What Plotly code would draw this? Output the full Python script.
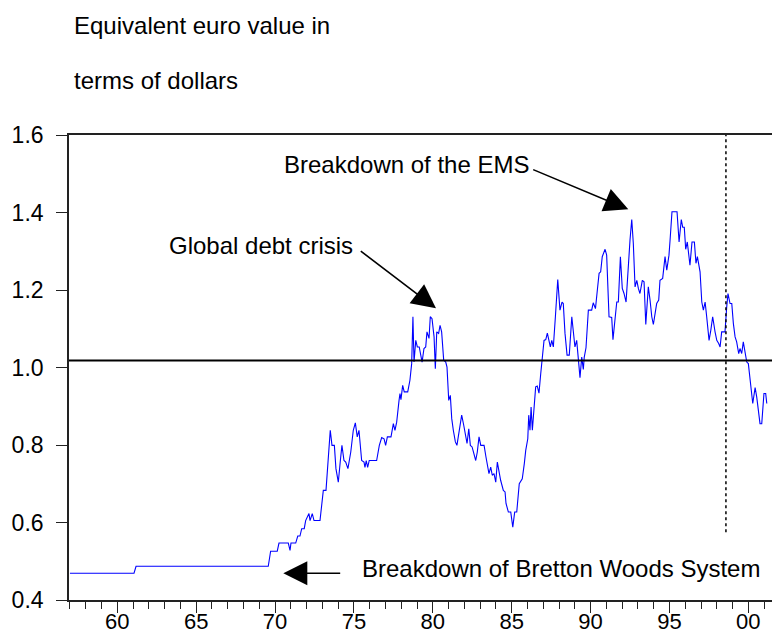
import plotly.graph_objects as go

# ---- data ----
years = [1957.0, 1961.06, 1961.19, 1969.57, 1969.72, 1970.14, 1970.25, 1970.84, 1970.95, 1971.01,
         1971.31, 1971.44, 1971.58, 1971.69, 1971.85, 1971.94, 1972.15, 1972.22, 1972.36, 1972.47,
         1972.85, 1973.06, 1973.23, 1973.40, 1973.50, 1973.61, 1973.76, 1973.86, 1974.01, 1974.14,
         1974.24, 1974.37, 1974.48, 1974.62, 1974.80, 1974.96, 1975.09, 1975.21, 1975.32, 1975.49,
         1975.64, 1975.70, 1975.78, 1975.87, 1975.97, 1976.44, 1976.61, 1976.76, 1976.91, 1977.01,
         1977.12, 1977.35, 1977.50, 1977.60, 1977.71, 1977.86, 1977.92, 1977.98, 1978.09, 1978.19,
         1978.41, 1978.55, 1978.66, 1978.74, 1978.81, 1978.92, 1979.02, 1979.14, 1979.32, 1979.44,
         1979.55, 1979.63, 1979.76, 1979.84, 1979.95, 1980.08, 1980.16, 1980.25, 1980.37, 1980.46,
         1980.56, 1980.69, 1980.82, 1980.90, 1981.01, 1981.11, 1981.20, 1981.30, 1981.43, 1981.53,
         1981.72, 1981.83, 1981.96, 1982.06, 1982.17, 1982.28, 1982.38, 1982.49, 1982.61, 1982.72,
         1982.82, 1982.93, 1983.04, 1983.25, 1983.37, 1983.56, 1983.67, 1983.77, 1983.88, 1983.99,
         1984.09, 1984.20, 1984.30, 1984.47, 1984.58, 1984.64, 1984.79, 1984.94, 1985.07, 1985.19,
         1985.32, 1985.48, 1985.67, 1985.80, 1985.89, 1986.02, 1986.08, 1986.16, 1986.23, 1986.31,
         1986.43, 1986.52, 1986.62, 1986.73, 1986.84, 1986.94, 1987.05, 1987.16, 1987.26, 1987.35,
         1987.45, 1987.54, 1987.64, 1987.77, 1987.92, 1988.06, 1988.19, 1988.27, 1988.38, 1988.51,
         1988.65, 1988.81, 1988.91, 1989.01, 1989.12, 1989.22, 1989.33, 1989.44, 1989.54, 1989.60,
         1989.71, 1989.86, 1990.07, 1990.17, 1990.31, 1990.43, 1990.54, 1990.64, 1990.74, 1990.92,
         1991.02, 1991.17, 1991.34, 1991.42, 1991.53, 1991.66, 1991.76, 1991.89, 1992.01, 1992.12,
         1992.25, 1992.39, 1992.50, 1992.61, 1992.71, 1992.82, 1992.93, 1993.03, 1993.13, 1993.28,
         1993.39, 1993.50, 1993.66, 1993.77, 1993.88, 1993.98, 1994.19, 1994.32, 1994.40, 1994.57,
         1994.72, 1994.83, 1994.97, 1995.04, 1995.16, 1995.48, 1995.61, 1995.75, 1995.84, 1995.94,
         1996.03, 1996.13, 1996.30, 1996.43, 1996.58, 1996.68, 1996.77, 1996.94, 1997.05, 1997.15,
         1997.26, 1997.36, 1997.51, 1997.62, 1997.74, 1997.89, 1998.00, 1998.12, 1998.21, 1998.31,
         1998.42, 1998.52, 1998.63, 1998.71, 1998.84, 1998.95, 1999.05, 1999.16, 1999.26, 1999.39,
         1999.47, 1999.58, 1999.68, 1999.79, 1999.90, 2000.00, 2000.11, 2000.28, 2000.43, 2000.53,
         2000.74, 2000.85, 2000.99, 2001.10, 2001.17]
values = [0.469, 0.469, 0.487, 0.487, 0.526, 0.526, 0.547, 0.547, 0.528, 0.547,
          0.547, 0.565, 0.565, 0.584, 0.584, 0.605, 0.623, 0.605, 0.623, 0.605,
          0.605, 0.683, 0.683, 0.799, 0.838, 0.799, 0.799, 0.739, 0.704, 0.760,
          0.799, 0.760, 0.756, 0.739, 0.782, 0.838, 0.857, 0.821, 0.838, 0.760,
          0.756, 0.742, 0.760, 0.742, 0.760, 0.760, 0.799, 0.819, 0.816, 0.799,
          0.821, 0.821, 0.855, 0.838, 0.859, 0.915, 0.933, 0.917, 0.954, 0.937,
          0.937, 0.967, 1.010, 1.131, 1.014, 1.070, 1.053, 1.053, 1.014, 1.049,
          1.053, 1.092, 1.075, 1.131, 1.126, 1.079, 0.997, 1.092, 1.088, 1.109,
          1.092, 1.019, 1.014, 1.001, 0.915, 0.928, 0.868, 0.838, 0.808, 0.799,
          0.842, 0.877, 0.851, 0.829, 0.804, 0.842, 0.799, 0.795, 0.778, 0.760,
          0.782, 0.821, 0.799, 0.799, 0.769, 0.726, 0.743, 0.722, 0.726, 0.704,
          0.756, 0.726, 0.709, 0.683, 0.679, 0.649, 0.627, 0.627, 0.588, 0.627,
          0.627, 0.700, 0.713, 0.752, 0.786, 0.816, 0.877, 0.838, 0.898, 0.838,
          0.898, 0.950, 0.952, 0.934, 0.984, 1.019, 1.070, 1.072, 1.089, 1.072,
          1.053, 1.070, 1.053, 1.131, 1.227, 1.148, 1.169, 1.165, 1.088, 1.032,
          1.032, 1.131, 1.096, 1.053, 1.070, 1.027, 0.974, 1.027, 0.995, 1.027,
          1.051, 1.148, 1.148, 1.167, 1.152, 1.200, 1.243, 1.247, 1.286, 1.305,
          1.290, 1.131, 1.129, 1.072, 1.114, 1.169, 1.169, 1.286, 1.204, 1.191,
          1.169, 1.277, 1.329, 1.382, 1.320, 1.208, 1.225, 1.204, 1.191, 1.225,
          1.221, 1.111, 1.208, 1.174, 1.131, 1.111, 1.165, 1.174, 1.225, 1.230,
          1.286, 1.251, 1.290, 1.329, 1.402, 1.402, 1.324, 1.382, 1.362, 1.362,
          1.305, 1.324, 1.264, 1.324, 1.324, 1.269, 1.286, 1.247, 1.169, 1.148,
          1.169, 1.131, 1.070, 1.096, 1.131, 1.092, 1.070, 1.062, 1.053, 1.092,
          1.092, 1.092, 1.156, 1.191, 1.165, 1.165, 1.114, 1.079, 1.066, 1.036,
          1.049, 1.036, 1.066, 1.040, 1.014, 1.010, 0.967, 0.907, 0.948, 0.924,
          0.855, 0.855, 0.933, 0.933, 0.907]

tick_years = [1960, 1965, 1970, 1975, 1980, 1985, 1990, 1995, 2000]
tick_labels = ["60", "65", "70", "75", "80", "85", "90", "95", "00"]
y_ticks = [0.4, 0.6, 0.8, 1.0, 1.2, 1.4, 1.6]
y_tick_labels = ["0.4", "0.6", "0.8", "1.0", "1.2", "1.4", "1.6"]
parity_level = 1.018
euro_launch = 1998.58
euro_line_bottom = 0.575

FONT = "Liberation Sans, Arial, sans-serif"
W, H = 772, 635
ML, MR, MT, MB = 69, 0, 135, 35
PW, PH = W - ML - MR, H - MT - MB


def px(xp):
    return (xp - ML) / PW


def py(yp):
    return (H - MB - yp) / PH


fig = go.Figure()
fig.add_trace(go.Scatter(x=years, y=values, mode="lines",
                         line=dict(color="#0000ff", width=1.1), hoverinfo="skip",
                         showlegend=False))

# horizontal parity line
fig.add_shape(type="line", xref="paper", yref="y", x0=0, x1=1,
              y0=parity_level, y1=parity_level, line=dict(color="black", width=2))
# dotted euro launch line
fig.add_shape(type="line", xref="x", yref="y", x0=euro_launch, x1=euro_launch,
              y0=euro_line_bottom, y1=1.6, line=dict(color="black", width=1.5, dash="dot"))

txt = dict(family=FONT, size=24, color="black")
annots = [
    dict(text="Equivalent euro value in", x=px(72), y=py(25)),
    dict(text="terms of dollars", x=px(72), y=py(81)),
    dict(text="Breakdown of the EMS", x=px(282), y=py(164)),
    dict(text="Global debt crisis", x=px(167), y=py(245)),
    dict(text="Breakdown of Bretton Woods System", x=px(360), y=py(568)),
]
for a in annots:
    fig.add_annotation(xref="paper", yref="paper", xanchor="left", yanchor="middle",
                       showarrow=False, font=txt, **a)

arrows = [
    (628.3, 209.3, 531.7, 169.0),
    (436.0, 308.3, 359.3, 250.0),
    (283.3, 573.3, 341.7, 573.3),
]
for tx, ty, sx, sy in arrows:
    fig.add_annotation(xref="paper", yref="paper", x=px(tx), y=py(ty), text="",
                       showarrow=True, arrowhead=2, arrowsize=3.0, arrowwidth=1.6,
                       arrowcolor="black", ax=sx - tx, ay=sy - ty)

fig.update_layout(
    width=W, height=H,
    margin=dict(l=ML, r=MR, t=MT, b=MB, pad=0, autoexpand=False),
    paper_bgcolor="white", plot_bgcolor="white",
    font=dict(family=FONT, size=23, color="black"),
    showlegend=False,
    xaxis=dict(range=[1956.94, 2001.50], tickmode="array", tickvals=tick_years,
               ticktext=tick_labels, ticks="outside", ticklen=11, tickwidth=1.3,
               tickcolor="#222", showline=True, linecolor="#222", linewidth=1.6,
               mirror=True, showgrid=False, zeroline=False, automargin=False,
               ticklabelstandoff=-10,
               tickfont=dict(family=FONT, size=22, color="black"),
               minor=dict(tickmode="linear", tick0=1957, dtick=1, ticks="outside",
                          ticklen=7, tickwidth=1.2, tickcolor="#222", showgrid=False)),
    yaxis=dict(range=[0.4, 1.6], tickmode="array", tickvals=y_ticks,
               ticktext=y_tick_labels, ticks="outside", ticklen=11, tickwidth=1.3,
               tickcolor="#222", showline=True, linecolor="#222", linewidth=1.6,
               showgrid=False, zeroline=False, ticklabelstandoff=8, automargin=False,
               tickfont=dict(family=FONT, size=23, color="black")),
)

fig.write_html("out.html", config={"displayModeBar": False},
               post_script="document.body.style.margin='0';document.body.style.padding='0';")
